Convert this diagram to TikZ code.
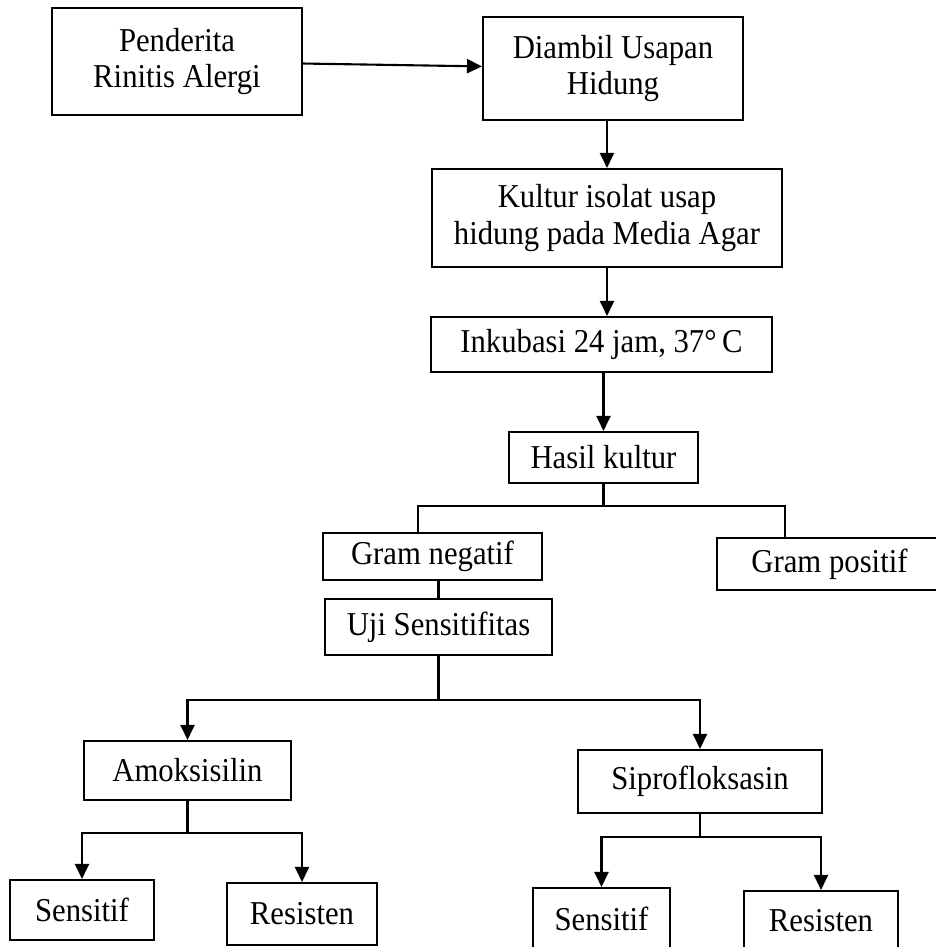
\documentclass[tikz,border=0pt]{standalone}
\usepackage{fontspec}
\setmainfont{Liberation Serif}[FakeStretch=0.92]
\usepackage{tikz}
\usetikzlibrary{arrows.meta}

\begin{document}
\begin{tikzpicture}[x=0.02cm, y=-0.02cm, line width=1.2pt,
		box/.style={draw, rectangle, inner sep=0pt, align=center, font=\fontsize{19}{21}\selectfont},
		>={Triangle[length=0.3cm, width=0.28cm]}]
			\useasboundingbox (0,0) rectangle (936,947);

			\node[box, minimum width=5cm, minimum height=2.14cm] (pen) at (177,61.5) {Penderita\\Rinitis Alergi};
			\node[box, minimum width=5.2cm, minimum height=2.06cm] (diam) at (613,68.5) {Diambil Usapan\\Hidung};
			\node[box, minimum width=7cm, minimum height=1.96cm] (kult) at (607,218) {Kultur isolat usap\\hidung pada Media Agar};
			\node[box, minimum width=6.82cm, minimum height=1.1cm] (inku) at (601.5,344.5) {Inkubasi 24 jam, 37°\,C};
			\node[box, minimum width=3.78cm, minimum height=1.02cm] (hasil) at (603.5,457.5) {Hasil kultur};
			\node[box, minimum width=4.38cm, minimum height=0.94cm] (gneg) at (432.5,556.5) {Gram negatif};
			\node[box, minimum width=4.5cm, minimum height=1.04cm] (gpos) at (829.5,564) {Gram positif};
			\node[box, minimum width=4.54cm, minimum height=1.12cm] (uji) at (438.5,627) {Uji Sensitifitas};
			\node[box, minimum width=4.14cm, minimum height=1.18cm] (amok) at (187.5,770.5) {Amoksisilin};
			\node[box, minimum width=4.88cm, minimum height=1.26cm] (sipro) at (700,781.5) {Siprofloksasin};
			\node[box, minimum width=2.88cm, minimum height=1.2cm] (sens1) at (82,910) {Sensitif};
			\node[box, minimum width=3cm, minimum height=1.24cm] (res1) at (302,914) {Resisten};
			\node[box, minimum width=2.74cm, minimum height=1.24cm] (sens2) at (601.5,919) {Sensitif};
			\node[box, minimum width=3.08cm, minimum height=1.18cm] (res2) at (821,920.5) {Resisten};

			\coordinate (br1) at (603.5,506);
			\coordinate (gnegin) at (418,533);
			\coordinate (gposin) at (785,538);
			\coordinate (br2) at (438.5,700);
			\coordinate (br3) at (187.5,833);
			\coordinate (br4) at (700,837);

			\draw[->] (pen) to (diam);
			\draw[->] (kult.north |- diam.south) to (kult.north);
			\draw[->] (kult.south) to (kult.south |- inku.north);
			\draw[->] (hasil.north |- inku.south) to (hasil.north);

			\draw (hasil.south) to (br1);
			\draw (gnegin) |- (br1) -| (gposin);
			\draw (uji.north |- gneg.south) to (uji.north);

			\draw (uji.south) to (br2);
			\draw[->] (br2) -| (amok.north);
			\draw[->] (br2) -| (sipro.north);

			\draw (amok.south) to (br3);
			\draw[->] (br3) -| (sens1.north);
			\draw[->] (br3) -| (res1.north);

			\draw (sipro.south) to (br4);
			\draw[->] (br4) -| (sens2.north);
			\draw[->] (br4) -| (res2.north);
		\end{tikzpicture}
\end{document}
